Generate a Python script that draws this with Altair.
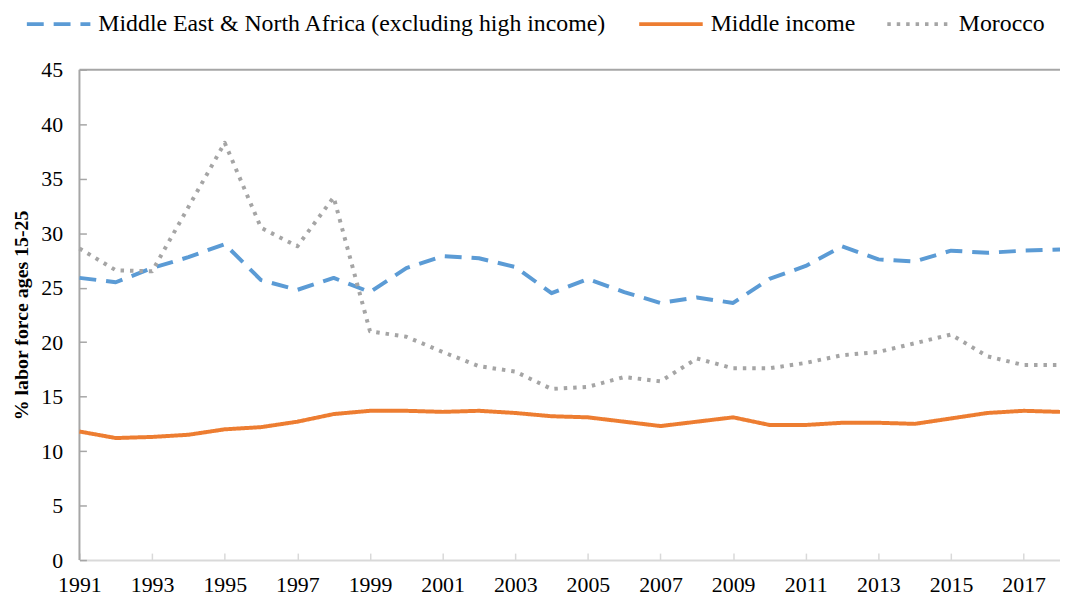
import altair as alt
import pandas as pd

years = list(range(1991, 2019))
mena = [25.9, 25.5, 26.8, 27.8, 29.0, 25.7, 24.8, 25.9, 24.6, 26.8,
        27.9, 27.7, 26.9, 24.5, 25.8, 24.6, 23.6, 24.1, 23.6, 25.8,
        27.0, 28.8, 27.6, 27.4, 28.4, 28.2, 28.4, 28.5]
middle = [11.8, 11.2, 11.3, 11.5, 12.0, 12.2, 12.7, 13.4, 13.7, 13.7,
          13.6, 13.7, 13.5, 13.2, 13.1, 12.7, 12.3, 12.7, 13.1, 12.4,
          12.4, 12.6, 12.6, 12.5, 13.0, 13.5, 13.7, 13.6]
morocco = [28.6, 26.6, 26.5, 32.4, 38.3, 30.5, 28.8, 33.3, 21.0, 20.5,
           19.1, 17.8, 17.3, 15.7, 15.9, 16.8, 16.4, 18.5, 17.6, 17.6,
           18.1, 18.8, 19.1, 19.9, 20.7, 18.7, 17.9, 17.9]

series_names = ["Middle East & North Africa (excluding high income)",
                "Middle income", "Morocco"]
series_values = [mena, middle, morocco]
colors = ["#5B9BD5", "#ED7D31", "#A5A5A5"]
dashes = [[17, 10], [1, 0], [3.5, 6]]

x_tick_labels = list(range(1991, 2018, 2))
y_tick_labels = list(range(0, 46, 5))

rows = []
for name, vals in zip(series_names, series_values):
    for yr, v in zip(years, vals):
        rows.append({"year": yr, "value": v, "series": name})
df = pd.DataFrame(rows)

FONT = "Liberation Serif"
W, H = 988, 494

xscale = alt.Scale(domain=[1991, 2018], nice=False, zero=False)
yscale = alt.Scale(domain=[0, 45], nice=False)

y_axis = alt.Axis(values=y_tick_labels, title="% labor force ages 15-25",
                  grid=False, ticks=True, tickSize=alt.ExprRef(expr="-7"),
                  tickColor="#A6A6A6", tickWidth=1.5, domain=False,
                  labelPadding=24, labelFont=FONT, labelFontSize=22,
                  labelColor="#000000",
                  titleFont=FONT, titleFontSize=20,
                  titleFontWeight="bold", titleColor="#000000",
                  titlePadding=9)
x_axis = alt.Axis(values=x_tick_labels, format="d", title=None,
                  grid=False, ticks=True, tickSize=alt.ExprRef(expr="-7"),
                  tickColor="#D9D9D9", tickWidth=1.5,
                  labelPadding=22, labelFont=FONT, labelFontSize=22,
                  labelColor="#000000", domainColor="#D9D9D9",
                  domainWidth=2, labelFlush=False)

lines = alt.Chart(df).mark_line(strokeWidth=4, strokeCap="butt",
                                strokeJoin="round").encode(
    x=alt.X("year:Q", scale=xscale, axis=x_axis),
    y=alt.Y("value:Q", scale=yscale, axis=y_axis),
    color=alt.Color("series:N",
                    scale=alt.Scale(domain=series_names, range=colors),
                    legend=alt.Legend(title=None, orient="none",
                                      legendX=-55, legendY=-80,
                                      direction="horizontal",
                                      symbolType="stroke", symbolSize=4096,
                                      symbolStrokeWidth=4,
                                      labelFont=FONT, labelFontSize=24,
                                      labelColor="#000000", labelLimit=800,
                                      labelOffset=6, columnPadding=24)),
    strokeDash=alt.StrokeDash("series:N",
                              scale=alt.Scale(domain=series_names, range=dashes),
                              legend=None),
)

frame_df = pd.DataFrame({"part": ["frame"]})
top_border = alt.Chart(frame_df).mark_rule(color="#A6A6A6", strokeWidth=2).encode(
    y=alt.value(0),
    x=alt.value(0),
    x2=alt.value(W),
)
left_border = alt.Chart(frame_df).mark_rule(color="#A6A6A6", strokeWidth=2).encode(
    x=alt.value(0),
    y=alt.value(0),
    y2=alt.value(H),
)

chart = alt.layer(top_border, left_border, lines).properties(
    width=W, height=H,
    autosize=alt.AutoSizeParams(type="none"),
    padding={"left": 72, "top": 60, "right": 0, "bottom": 40},
).configure(background="white", font=FONT).configure_view(strokeWidth=0,
                                                         stroke="transparent")

chart.save("out.html", embed_options={"renderer": "svg", "actions": False})
